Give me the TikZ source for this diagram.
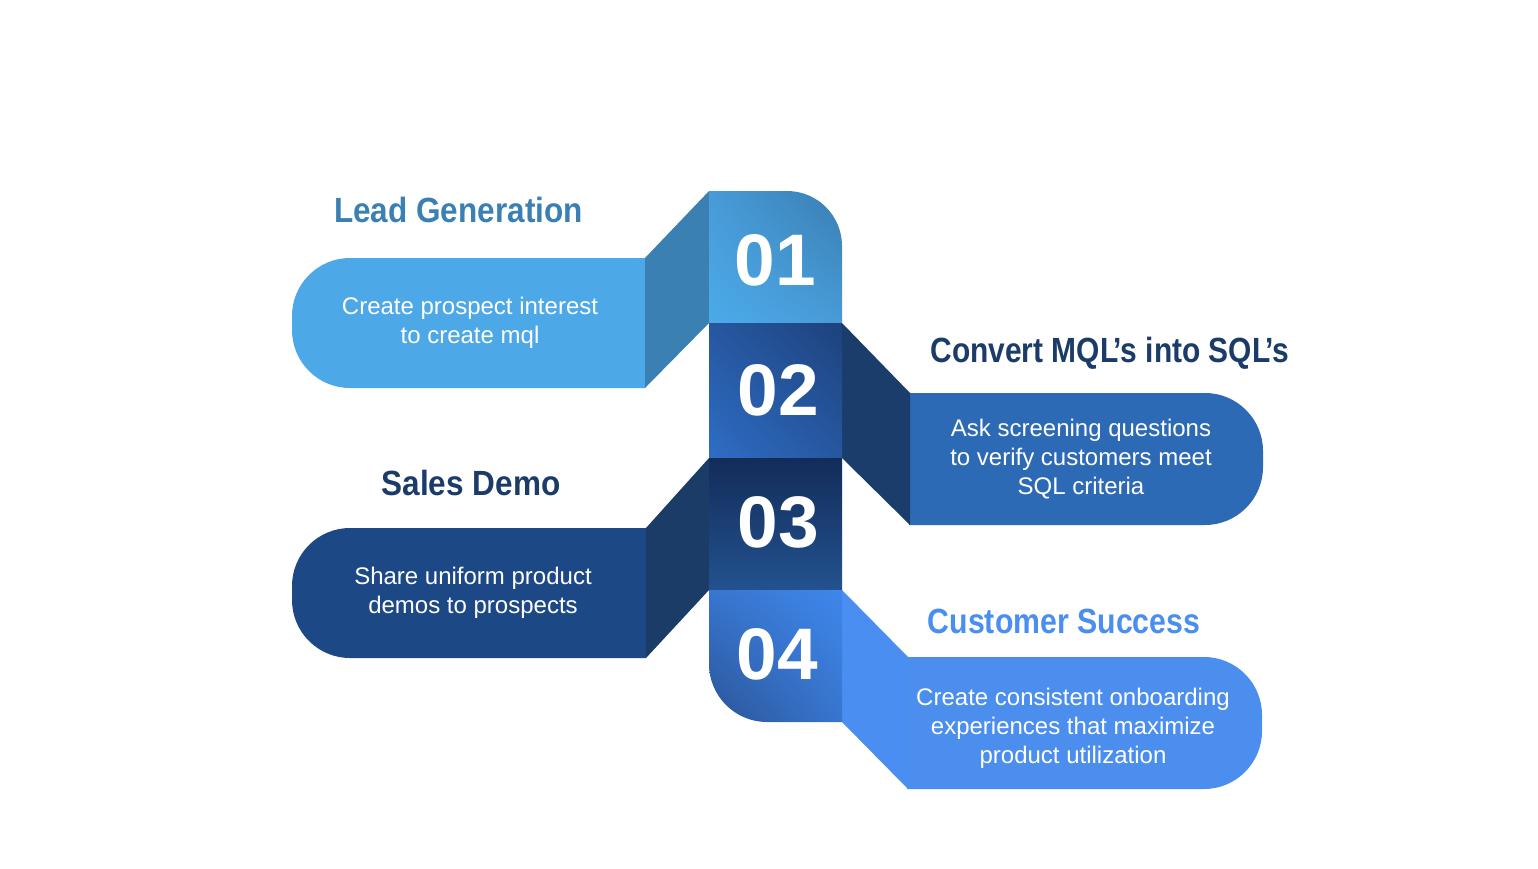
\documentclass[tikz,border=0pt]{standalone}
\usepackage{fontspec}
\setmainfont{Liberation Sans}
\newfontfamily\narrowfont{Liberation Sans}[FakeStretch=0.9]
\usetikzlibrary{shadings}

% palette
\definecolor{skyPill}{HTML}{4DA8E7}
\definecolor{skyPanel}{HTML}{3A80B2}
\definecolor{skyLight}{HTML}{4CAAEA}
\definecolor{skyDark}{HTML}{3A7DB2}
\definecolor{midPill}{HTML}{2D6AB5}
\definecolor{midPanel}{HTML}{1B3D6B}
\definecolor{midLight}{HTML}{2F6DC4}
\definecolor{midDark}{HTML}{1D427C}
\definecolor{navyPill}{HTML}{1D4886}
\definecolor{navyPanel}{HTML}{1A3C66}
\definecolor{navyTop}{HTML}{132C5A}
\definecolor{navyBottom}{HTML}{23528F}
\definecolor{brightPill}{HTML}{4B8EEE}
\definecolor{brightPanel}{HTML}{4A8EF2}
\definecolor{brightLight}{HTML}{3F87EC}
\definecolor{brightDark}{HTML}{2A5496}
\definecolor{headSky}{HTML}{3A80B5}
\definecolor{headNavy}{HTML}{1B3C68}
\definecolor{headBright}{HTML}{4A8EF0}

\tikzset{
  heading/.style={anchor=base, inner sep=0pt, font=\narrowfont\fontsize{35}{40}\selectfont\bfseries},
  bodytext/.style={text=white, align=center, inner sep=0pt, font=\fontsize{24}{29}\selectfont},
  numtext/.style={text=white, inner sep=0pt, font=\fontsize{73}{80}\selectfont\bfseries},
}

\begin{document}
\begin{tikzpicture}[x=1pt, y=-1pt]
\useasboundingbox (0,0) rectangle (1538,868);
\fill[white] (0,0) rectangle (1538,868);

% ---- step 1: light blue tab on the left
\fill[skyPill] (645,258) -- (350,258) .. controls (318,258) and (292,284) .. (292,316)
  -- (292,330) .. controls (292,362) and (318,388) .. (350,388) -- (645,388) -- cycle;
\fill[skyPanel] (709,191) -- (709,323) -- (645,388) -- (645,258) -- cycle;
\shade[upper right=skyDark, lower left=skyLight, upper left=skyPill!70!skyDark, lower right=skyPill!70!skyDark]
  (709,323) -- (709,191) -- (787,191) .. controls (817.4,191) and (842,215.6) .. (842,246)
  -- (842,323) -- cycle;

% ---- step 2: mid blue tab on the right
\fill[midPill] (909,393) -- (1205,393) .. controls (1237,393) and (1263,419) .. (1263,451)
  -- (1263,467) .. controls (1263,499) and (1237,525) .. (1205,525) -- (909,525) -- cycle;
\fill[midPanel] (842,323) -- (842,458) -- (910,525) -- (910,393) -- cycle;
\shade[upper right=midDark, lower left=midLight, upper left=midLight!50!midDark, lower right=midLight!50!midDark]
  (709,323) rectangle (842,458);

% ---- step 3: navy tab on the left
\fill[navyPill] (646,528) -- (350,528) .. controls (318,528) and (292,554) .. (292,586)
  -- (292,600) .. controls (292,632) and (318,658) .. (350,658) -- (646,658) -- cycle;
\fill[navyPanel] (709,458) -- (709,590) -- (646,658) -- (646,528) -- cycle;
\shade[top color=navyTop, bottom color=navyBottom] (709,458) rectangle (842,590);

% ---- step 4: bright blue tab on the right
\fill[brightPill] (907,657) -- (1204,657) .. controls (1236,657) and (1262,683) .. (1262,715)
  -- (1262,731) .. controls (1262,763) and (1236,789) .. (1204,789) -- (907,789) -- cycle;
\fill[brightPanel] (842,590) -- (842,722) -- (908,789) -- (908,657) -- cycle;
\shade[upper right=brightLight, lower left=brightDark, upper left=brightLight!65!brightDark, lower right=brightLight!65!brightDark]
  (709,590) -- (842,590) -- (842,722) -- (767,722) .. controls (735,722) and (709,696) .. (709,664)
  -- cycle;

% ---- step numbers
\node[numtext] (n1) at (775,260) {01};
\node[numtext] (n2) at (778,390) {02};
\node[numtext] (n3) at (778,522) {03};
\node[numtext] (n4) at (777,654) {04};

% ---- headings
\node[heading, text=headSky]    (h1) at (458.5,222) {Lead Generation};
\node[heading, text=headNavy]   (h2) at (1110,362)
  {\scalebox{0.95}[1]{Convert MQL\kern-5pt’s into SQL\kern-5pt’s}};
\node[heading, text=headNavy]   (h3) at (471,495)   {Sales Demo};
\node[heading, text=headBright] (h4) at (1064,633)  {\scalebox{0.96}[1]{Customer Success}};

% ---- descriptions
\node[bodytext] (t1) at (470,323)  {Create prospect interest\\to create mql};
\node[bodytext] (t2) at (1081,459.5) {Ask screening questions\\to verify customers meet\\SQL criteria};
\node[bodytext] (t3) at (473,593)  {Share uniform product\\demos to prospects};
\node[bodytext] (t4) at (1073,728) {Create consistent onboarding\\experiences that maximize\\product utilization};
\end{tikzpicture}
\end{document}
